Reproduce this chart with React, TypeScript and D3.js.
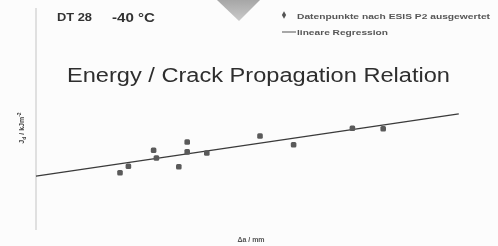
import { useRef, useEffect } from 'react';
import * as d3 from 'd3';

const crackGrowth = [0.3, 0.33, 0.42, 0.43, 0.51, 0.54, 0.54, 0.61, 0.8, 0.92, 1.13, 1.24];
const energy = [104, 116, 145, 131, 115, 160, 142, 140, 171, 155, 185, 184];

// linear regression end points
const regX = [0, 1.51];
const regY = [98, 211];

const legendLabels = ['Datenpunkte nach ESIS P2 ausgewertet', 'lineare Regression'];
const title = 'Energy / Crack Propagation Relation';

export default function App() {
  const svgRef = useRef<SVGSVGElement>(null);

  useEffect(() => {
    if (!svgRef.current) return;
    const svg = d3.select(svgRef.current);
    svg.selectAll('*').remove();

    const W = 498;
    const H = 246;
    const font = 'Liberation Sans, Arial, sans-serif';

    const defs = svg.append('defs');
    defs.append('filter').attr('id', 'soft')
      .append('feGaussianBlur').attr('stdDeviation', 0.6);
    const grad = defs.append('linearGradient').attr('id', 'tri').attr('x1', 0).attr('y1', 0).attr('x2', 0).attr('y2', 1);
    grad.append('stop').attr('offset', '0%').attr('stop-color', '#909090');
    grad.append('stop').attr('offset', '100%').attr('stop-color', '#bdbdbd');

    svg.append('rect').attr('width', W).attr('height', H).attr('fill', '#fcfcfc');

    const g = svg.append('g').attr('filter', 'url(#soft)');

    const x = d3.scaleLinear().domain([0, 1.6]).range([36, 484]);
    const y = d3.scaleLinear().domain([0, 400]).range([230, 10]);

    // grey marker triangle at top of slide
    g.append('path').attr('d', 'M217,0 L260,0 L239,21 Z').attr('fill', 'url(#tri)').attr('opacity', 0.8);

    // y axis line
    g.append('line')
      .attr('x1', x(0)).attr('x2', x(0))
      .attr('y1', 8).attr('y2', y(0))
      .attr('stroke', '#c4c4c4').attr('stroke-width', 1);

    // header
    g.append('text').attr('x', 57).attr('y', 21)
      .attr('font-family', font).attr('font-size', 11).attr('font-weight', 700)
      .attr('fill', '#333').attr('textLength', 35).attr('lengthAdjust', 'spacingAndGlyphs').text('DT 28');
    g.append('text').attr('x', 112).attr('y', 21.5)
      .attr('font-family', font).attr('font-size', 12).attr('font-weight', 700)
      .attr('fill', '#333').attr('textLength', 43).attr('lengthAdjust', 'spacingAndGlyphs').text('-40 °C');

    // legend
    g.append('path').attr('d', d3.symbol(d3.symbolDiamond, 16)())
      .attr('transform', 'translate(284,15)').attr('fill', '#555');
    g.append('text').attr('x', 297).attr('y', 18.5)
      .attr('font-family', font).attr('font-size', 7.5).attr('font-weight', 700)
      .attr('fill', '#555').attr('textLength', 193).attr('lengthAdjust', 'spacingAndGlyphs')
      .text(legendLabels[0]);
    g.append('line').attr('x1', 282).attr('x2', 296).attr('y1', 32).attr('y2', 32)
      .attr('stroke', '#555').attr('stroke-width', 1);
    g.append('text').attr('x', 297).attr('y', 34.5)
      .attr('font-family', font).attr('font-size', 7.5).attr('font-weight', 700)
      .attr('fill', '#555').attr('textLength', 91).attr('lengthAdjust', 'spacingAndGlyphs')
      .text(legendLabels[1]);

    // title
    g.append('text').attr('x', 67).attr('y', 82)
      .attr('font-family', font).attr('font-size', 20)
      .attr('fill', '#2e2e2e').attr('textLength', 383).attr('lengthAdjust', 'spacingAndGlyphs')
      .text(title);

    // regression line
    const line = d3.line<number>().x((d) => x(d)).y((_, i) => y(regY[i]));
    g.append('path').datum(regX).attr('d', line)
      .attr('fill', 'none').attr('stroke', '#3a3a3a').attr('stroke-width', 1.3);

    // data points
    g.selectAll('.pt').data(crackGrowth).join('rect')
      .attr('class', 'pt')
      .attr('x', (d) => x(d) - 2.8)
      .attr('y', (_, i) => y(energy[i]) - 2.8)
      .attr('width', 5.6).attr('height', 5.6).attr('rx', 1.5)
      .attr('fill', '#5a5a5a');

    // axis titles
    const yl = g.append('text')
      .attr('transform', 'translate(24,128) rotate(-90)')
      .attr('text-anchor', 'middle')
      .attr('font-family', font).attr('font-size', 7).attr('font-weight', 700)
      .attr('fill', '#444');
    yl.append('tspan').text('J');
    yl.append('tspan').attr('font-size', 5).attr('dy', 2).text('d');
    yl.append('tspan').attr('dy', -2).text(' / kJm');
    yl.append('tspan').attr('font-size', 5).attr('dy', -3).text('-2');

    g.append('text').attr('x', 251).attr('y', 242)
      .attr('text-anchor', 'middle')
      .attr('font-family', font).attr('font-size', 7).attr('font-weight', 700)
      .attr('fill', '#555').text('Δa / mm');
  }, []);

  return (
    <svg ref={svgRef} width={498} height={246}
      style={{ position: 'absolute', left: 0, top: 0, display: 'block' }} />
  );
}
